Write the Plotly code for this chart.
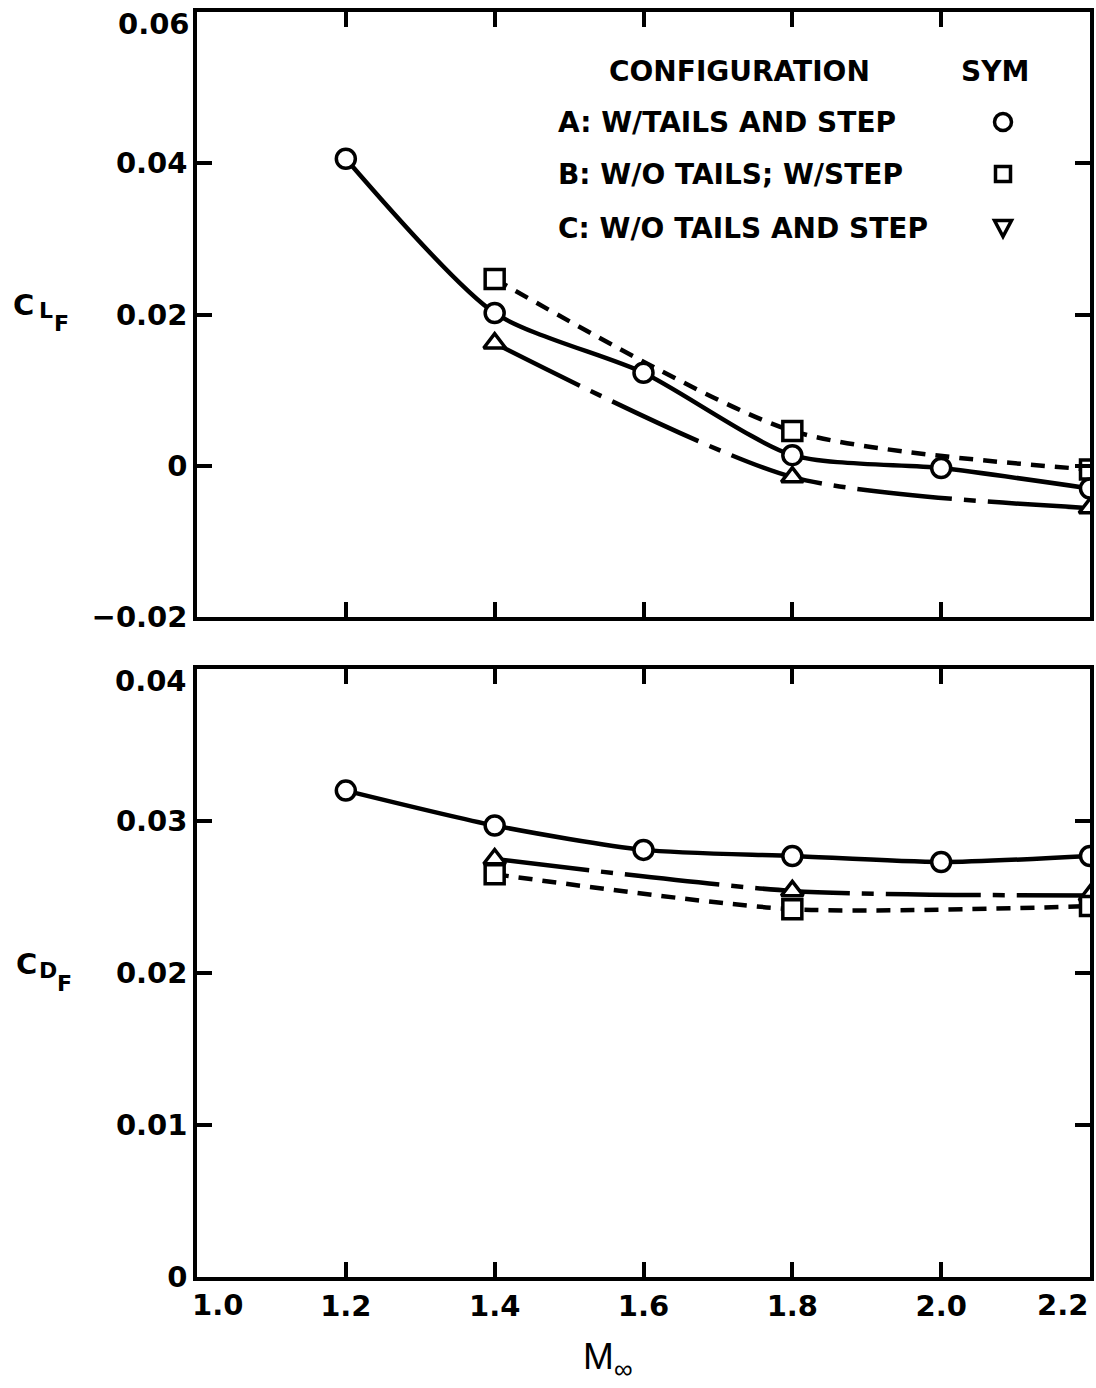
import plotly.graph_objects as go

# ---- data -------------------------------------------------------------
mach_a = [1.2, 1.4, 1.6, 1.8, 2.0, 2.2]
mach_bc = [1.4, 1.8, 2.2]

# Lift coefficient of the forebody, C_LF
cl_a = [0.0406, 0.0202, 0.0123, 0.0014, -0.0003, -0.0030]
cl_b = [0.0247, 0.0046, -0.0005]
cl_c = [0.0162, -0.0015, -0.0056]

# Drag coefficient of the forebody, C_DF
cd_a = [0.0320, 0.0297, 0.0281, 0.0277, 0.0273, 0.0277]
cd_b = [0.0265, 0.0242, 0.0244]
cd_c = [0.0275, 0.0254, 0.0251]

x_ticks = [1.0, 1.2, 1.4, 1.6, 1.8, 2.0, 2.2]
x_tick_text = ["1.0", "1.2", "1.4", "1.6", "1.8", "2.0", "2.2"]
cl_ticks = [-0.02, 0.0, 0.02, 0.04, 0.06]
cl_tick_text = ["\u22120.02", "0", "0.02", "0.04", "0.06"]
cd_ticks = [0.0, 0.01, 0.02, 0.03, 0.04]
cd_tick_text = ["0", "0.01", "0.02", "0.03", "0.04"]

legend_rows = ["A: W/TAILS AND STEP", "B: W/O TAILS; W/STEP", "C: W/O TAILS AND STEP"]
legend_syms = ["circle", "square", "triangle-down"]

# ---- page geometry (pixels) -------------------------------------------
W, H = 1096, 1388
LEFT, RIGHT, TOP, BOTTOM = 197, 1090, 12, 1277
ML, MR, MT, MB = LEFT, W - RIGHT, TOP, H - BOTTOM
PW, PH = W - ML - MR, H - MT - MB
TOP_PANEL_BOTTOM = 617
BOT_PANEL_TOP = 669


def fx(p):
    return (p - ML) / PW


def fy(p):
    return (H - MB - p) / PH


FONT = "DejaVu Sans"
LW = 4.5
MSIZE = 19
SMOOTH = 0.7
DASH_B = "14px,10px"
DASH_C = "95px,12px,12px,12px"

fig = go.Figure()


def add_series(x, y, xa, ya, symbol, dash):
    fig.add_trace(go.Scatter(
        x=x, y=y, xaxis=xa, yaxis=ya, mode="lines+markers",
        line=dict(color="black", width=LW, dash=dash, shape="spline", smoothing=SMOOTH),
        marker=dict(symbol=symbol, size=MSIZE, color="white",
                    line=dict(color="black", width=3.5)),
        showlegend=False, hoverinfo="skip",
    ))


# top panel: lift
add_series(mach_bc, cl_c, "x", "y", "triangle-up", DASH_C)
add_series(mach_bc, cl_b, "x", "y", "square", DASH_B)
add_series(mach_a, cl_a, "x", "y", "circle", "solid")
# bottom panel: drag
add_series(mach_bc, cd_c, "x2", "y2", "triangle-up", DASH_C)
add_series(mach_bc, cd_b, "x2", "y2", "square", DASH_B)
add_series(mach_a, cd_a, "x2", "y2", "circle", "solid")

TICKFONT = dict(family=FONT, size=29, color="black", weight="bold")
axis_common = dict(
    showline=True, linecolor="black", linewidth=3.5, mirror="ticks",
    ticks="inside", ticklen=15, tickwidth=3.5, tickcolor="black",
    showgrid=False, zeroline=False, tickfont=TICKFONT, automargin=False,
)

top_dom = [fy(TOP_PANEL_BOTTOM), 1.0]
bot_dom = [0.0, fy(BOT_PANEL_TOP)]

# end labels of each scale are nudged inward by hand (see annotations below)
x_text_axis = [""] + x_tick_text[1:-1] + [""]
cl_text_axis = cl_tick_text[:-1] + [""]
cd_text_axis = cd_tick_text[:-1] + [""]

fig.update_layout(
    width=W, height=H,
    margin=dict(l=ML, r=MR, t=MT, b=MB, autoexpand=False),
    paper_bgcolor="white", plot_bgcolor="white",
    xaxis=dict(domain=[0, 1], anchor="y", range=[1.0, 2.2],
               tickvals=x_ticks, showticklabels=False, **axis_common),
    yaxis=dict(domain=top_dom, anchor="x", range=[-0.02, 0.06],
               tickvals=cl_ticks, ticktext=cl_text_axis, ticklabelstandoff=0,
               **axis_common),
    xaxis2=dict(domain=[0, 1], anchor="y2", range=[1.0, 2.2],
                tickvals=x_ticks, ticktext=x_text_axis, ticklabelstandoff=0,
                **axis_common),
    yaxis2=dict(domain=bot_dom, anchor="x2", range=[0.0, 0.04],
                tickvals=cd_ticks, ticktext=cd_text_axis, ticklabelstandoff=0,
                **axis_common),
)


def label(text, px, py, size=27, weight="bold", xanchor="center", family=FONT,
          yanchor="middle"):
    fig.add_annotation(
        text=text, xref="paper", yref="paper", x=fx(px), y=fy(py),
        xanchor=xanchor, yanchor=yanchor, showarrow=False,
        font=dict(family=family, size=size, color="black", weight=weight),
    )


def tick_label(text, px, py, xanchor="center"):
    fig.add_annotation(
        text=text, xref="paper", yref="paper", x=fx(px), y=fy(py),
        xanchor=xanchor, yanchor="middle", showarrow=False, font=TICKFONT,
    )


def legend_symbol(kind, cx, cy, r=8.5):
    line = dict(color="black", width=3.5)
    if kind == "circle":
        fig.add_shape(type="circle", xref="paper", yref="paper",
                      x0=fx(cx - r), x1=fx(cx + r), y0=fy(cy + r), y1=fy(cy - r),
                      line=line, fillcolor="white")
    elif kind == "square":
        s = r - 1
        fig.add_shape(type="rect", xref="paper", yref="paper",
                      x0=fx(cx - s), x1=fx(cx + s), y0=fy(cy + s), y1=fy(cy - s),
                      line=line, fillcolor="white")
    else:
        pts = [(cx - r, cy - r + 1), (cx + r, cy - r + 1), (cx, cy + r)]
        path = "M " + " L ".join(f"{fx(a):.5f},{fy(b):.5f}" for a, b in pts) + " Z"
        fig.add_shape(type="path", xref="paper", yref="paper", path=path,
                      line=line, fillcolor="white")


# scale-end labels
tick_label(x_tick_text[0], LEFT - 7, 1305, xanchor="left")
tick_label(x_tick_text[-1], RIGHT, 1305, xanchor="right")
tick_label(cl_tick_text[-1], LEFT - 5, 24, xanchor="right")
tick_label(cd_tick_text[-1], LEFT - 8, 681, xanchor="right")

# legend block
label("CONFIGURATION", 607, 72, 28, xanchor="left")
label("SYM", 995, 72, 28)
row_y = [122, 174, 228]
for text, sym, ry in zip(legend_rows, legend_syms, row_y):
    label(text, 556, ry, 28, xanchor="left")
    legend_symbol(sym, 1003, ry)

# axis titles
label("C", 23, 305, 29)
label("L", 46, 311, 22)
label("F", 61, 323, 22)

label("C", 26, 964, 29)
label("D", 48, 970, 22)
label("F", 64, 983, 22)

label("M", 598, 1356, 37, weight="normal", family="Liberation Sans")
label("\u221e", 623, 1369, 26, weight="normal", family="Liberation Sans")

fig.write_html("out.html")
